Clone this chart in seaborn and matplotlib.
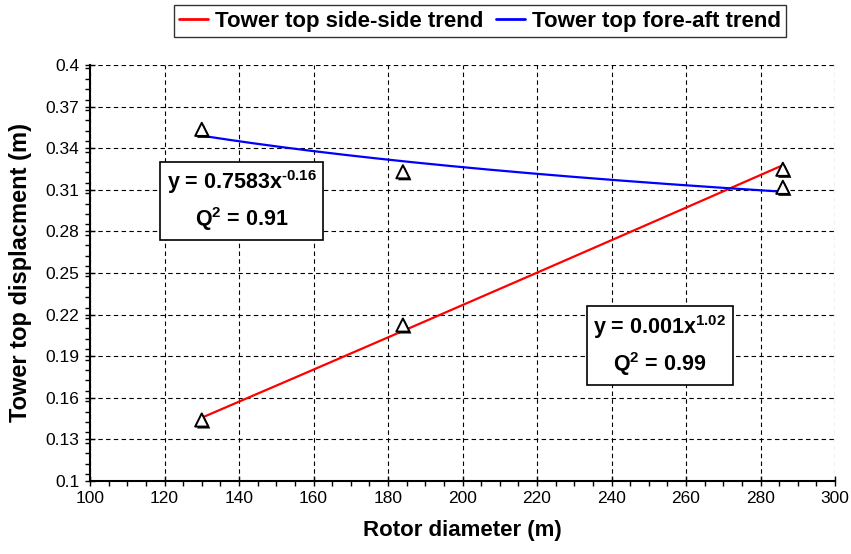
import numpy as np
import pandas as pd
import seaborn as sns
import matplotlib
matplotlib.use("Agg")
import matplotlib.pyplot as plt
import matplotlib.patheffects as pe
from matplotlib.lines import Line2D
from matplotlib.ticker import MultipleLocator, FuncFormatter

# Measured points: rotor diameter (m) and tower top displacement (m)
rotor_diameter = [130, 184, 286]
side_side = [0.144, 0.2125, 0.3248]
fore_aft = [0.3536, 0.323, 0.3118]

series_names = ["Tower top side-side trend", "Tower top fore-aft trend"]
series_colors = ["#FF0000", "#0000FF"]

eq_side = ("y = 0.001x", "1.02", "0.99")
eq_fore = ("y = 0.7583x", "-0.16", "0.91")

x_ticks = list(range(100, 301, 20))
y_ticks = [0.1, 0.13, 0.16, 0.19, 0.22, 0.25, 0.28, 0.31, 0.34, 0.37, 0.4]

sns.set_style("ticks")
plt.rcParams["font.family"] = ["Liberation Sans", "DejaVu Sans"]
plt.rcParams["mathtext.fontset"] = "custom"
plt.rcParams["mathtext.rm"] = "Liberation Sans:bold"
plt.rcParams["mathtext.bf"] = "Liberation Sans:bold"
plt.rcParams["mathtext.default"] = "bf"
for key in ["text.color", "axes.labelcolor", "xtick.color", "ytick.color",
            "xtick.labelcolor", "ytick.labelcolor"]:
    plt.rcParams[key] = "black"

fig = plt.figure(figsize=(8.51, 5.54), dpi=100)
ax = fig.add_axes([90 / 851, 1 - 481 / 554, 745 / 851, 416 / 554])


def power_fit(x, y):
    b, ln_a = np.polyfit(np.log(x), np.log(y), 1)
    return np.exp(ln_a), b


xs = np.linspace(min(rotor_diameter), max(rotor_diameter), 200)
curves = []
for name, yvals in zip(series_names, [side_side, fore_aft]):
    a, b = power_fit(np.array(rotor_diameter, float), np.array(yvals, float))
    curves.append(pd.DataFrame({"x": xs, "y": a * xs ** b, "series": name}))
trend = pd.concat(curves, ignore_index=True)

sns.lineplot(data=trend, x="x", y="y", hue="series", palette=series_colors,
             hue_order=series_names, linewidth=1.6, legend=False, ax=ax,
             zorder=3)

points = pd.DataFrame({
    "x": rotor_diameter * 2,
    "y": side_side + fore_aft,
})
sns.scatterplot(data=points, x="x", y="y", marker="^", s=90,
                facecolor="white", edgecolor="black", linewidth=1.4,
                ax=ax, zorder=4)
for coll in ax.collections:
    coll.set_path_effects([
        pe.SimplePatchShadow(offset=(1.4, -1.4), shadow_rgbFace="black", alpha=1),
        pe.Normal(),
    ])

ax.set_xlim(100, 300)
ax.set_ylim(0.1, 0.4)
ax.set_xticks(x_ticks)
ax.set_yticks(y_ticks)
ax.xaxis.set_minor_locator(MultipleLocator(5))
ax.yaxis.set_minor_locator(MultipleLocator(0.0075))
ax.yaxis.set_major_formatter(FuncFormatter(lambda v, p: f"{round(v, 3):g}"))
ax.xaxis.set_major_formatter(FuncFormatter(lambda v, p: f"{v:.0f}"))

ax.grid(True, which="major", color="black", linestyle=(0, (4, 3)), linewidth=0.8)
for side in ["top", "right"]:
    ax.spines[side].set_visible(False)
for side in ["left", "bottom"]:
    ax.spines[side].set_color("black")
    ax.spines[side].set_linewidth(1.5)

ax.tick_params(which="major", direction="inout", length=7, width=1,
               color="black", labelsize=12.5, pad=4)
ax.tick_params(which="minor", direction="out", length=3.5, width=1,
               color="black")

ax.set_xlabel("Rotor diameter (m)", fontsize=16, fontweight="bold", labelpad=10)
ax.set_ylabel("Tower top displacment (m)", fontsize=17, fontweight="bold",
              labelpad=10)

box = dict(boxstyle="square,pad=0.3", facecolor="white", edgecolor="black",
           linewidth=1.2)
for (base, expo, q2), (bx, by) in [(eq_fore, (140.8, 0.302)),
                                    (eq_side, (252.9, 0.1977))]:
    ax.text(bx, by,
            f"{base}$^{{\\text{{{expo}}}}}$\nQ$^{{2}}$ = {q2}",
            ha="center", va="center", fontsize=15.5, fontweight="bold",
            linespacing=1.45, bbox=box, zorder=5, multialignment="center")

handles = [Line2D([], [], color=c, linewidth=2) for c in series_colors]
leg = fig.legend(handles, series_names, loc="center", ncol=2,
                 bbox_to_anchor=(480 / 851, 1 - 21 / 554),
                 frameon=True, fancybox=False, edgecolor="black",
                 handlelength=1.3, handletextpad=0.3, columnspacing=0.6,
                 borderpad=0.25, prop={"weight": "bold", "size": 16})
leg.get_frame().set_linewidth(1.0)

fig.savefig("out.png", dpi=100)
